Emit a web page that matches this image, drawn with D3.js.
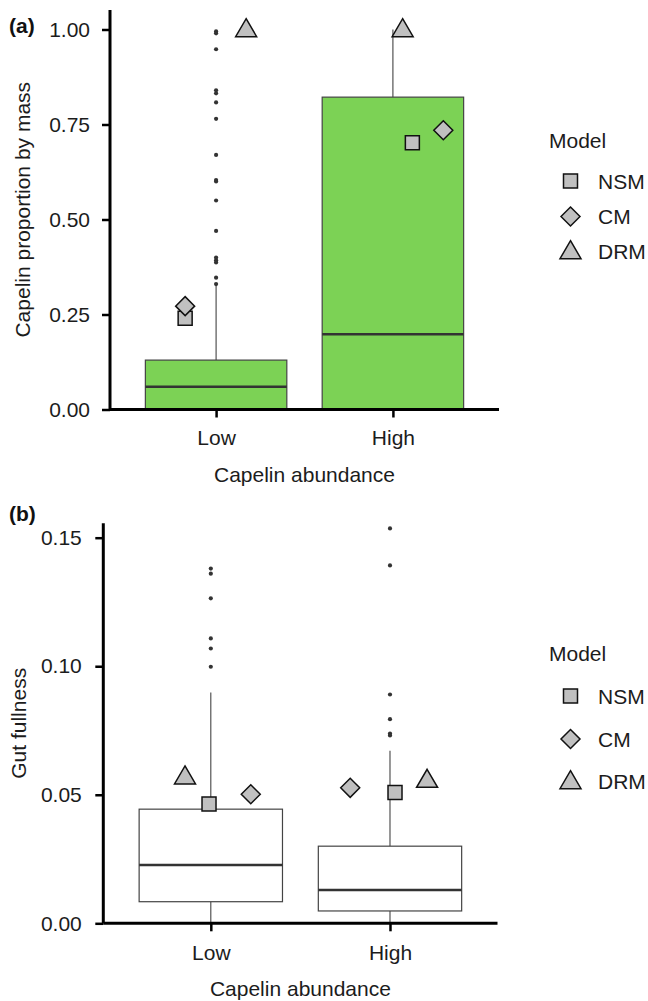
<!DOCTYPE html>
<html><head><meta charset="utf-8">
<script src="https://cdn.jsdelivr.net/npm/d3@7"></script>
<style>
html,body{margin:0;padding:0;background:#fff;}
svg{display:block;font-family:"Liberation Sans",Arial,sans-serif;}
</style></head>
<body><svg id="chart" width="648" height="1001"></svg>
<script>
// ---------- DATA ----------
const categories = ["Low", "High"];
const models = ["NSM", "CM", "DRM"];

// Panel (a): Capelin proportion by mass — box stats [lowWhisker, q1, median, q3, highWhisker]
const propStatsLow  = [0, 0, 0.060, 0.130, 0.326];
const propStatsHigh = [0, 0, 0.198, 0.822, 1.000];
const propOutliersLow  = [0.995, 0.990, 0.948, 0.840, 0.832, 0.808, 0.765, 0.670, 0.604, 0.600, 0.550, 0.470, 0.400, 0.393, 0.387, 0.347, 0.330];
const propOutliersHigh = [];
// model predictions (NSM, CM, DRM)
const propModelLow  = [0.240, 0.272, 1.000];
const propModelHigh = [0.702, 0.735, 1.000];
// horizontal jitter of model points (fraction of category step)
const propJitterLow  = [-0.175, -0.175, 0.17];
const propJitterHigh = [0.11, 0.285, 0.055];
const propTicks = [0, 0.25, 0.50, 0.75, 1.00];

// Panel (b): Gut fullness
const gutStatsLow  = [0, 0.0084, 0.0227, 0.0444, 0.0898];
const gutStatsHigh = [0, 0.0048, 0.0130, 0.0300, 0.0671];
const gutOutliersLow  = [0.1380, 0.1360, 0.1264, 0.1108, 0.1069, 0.0998];
const gutOutliersHigh = [0.1536, 0.1392, 0.0890, 0.0794, 0.0738, 0.0731];
const gutModelLow  = [0.0464, 0.0502, 0.0570];
const gutModelHigh = [0.0509, 0.0527, 0.0557];
const gutJitterLow  = [-0.01, 0.223, -0.144];
const gutJitterHigh = [0.028, -0.222, 0.207];
const gutTicks = [0, 0.05, 0.10, 0.15];

// ---------- DRAW ----------
const svg = d3.select("#chart");
const FONT = 21;
const TXT = "#1c1c1c";
const markerFill = "#c0c0c0";

function markerPath(model, cx, cy) {
  if (model === "NSM") {
    const s = 7;
    return `M${cx-s},${cy-s}H${cx+s}V${cy+s}H${cx-s}Z`;
  } else if (model === "CM") {
    const s = 9.5;
    return `M${cx},${cy-s}L${cx+s},${cy}L${cx},${cy+s}L${cx-s},${cy}Z`;
  } else {
    const w = 10.5, h = 18;
    return `M${cx},${cy-h*0.6}L${cx+w},${cy+h*0.4}L${cx-w},${cy+h*0.4}Z`;
  }
}

function drawPanel(cfg) {
  const g = svg.append("g");
  const x = d3.scalePoint().domain(categories).range([cfg.left, cfg.right]).padding(0.6);
  const y = d3.scaleLinear().domain(cfg.domain).range([cfg.bottom, cfg.top]);
  const step = x.step();
  const bw = step * 0.8;

  const stats = {Low: cfg.statsLow, High: cfg.statsHigh};
  const outl = {Low: cfg.outLow, High: cfg.outHigh};
  const mods = {Low: cfg.modLow, High: cfg.modHigh};
  const jit = {Low: cfg.jitLow, High: cfg.jitHigh};

  categories.forEach(c => {
    const s = stats[c];
    const cx = x(c);
    g.append("line").attr("x1", cx).attr("x2", cx).attr("y1", y(s[3])).attr("y2", y(s[4]))
      .attr("stroke", "#444").attr("stroke-width", 1.1);
    if (s[1] > s[0]) {
      g.append("line").attr("x1", cx).attr("x2", cx).attr("y1", y(s[0])).attr("y2", y(s[1]))
        .attr("stroke", "#444").attr("stroke-width", 1.1);
    }
    g.append("rect").attr("x", cx - bw / 2).attr("width", bw)
      .attr("y", y(s[3])).attr("height", y(s[1]) - y(s[3]))
      .attr("fill", cfg.fill).attr("stroke", "#444").attr("stroke-width", 1.2);
    g.append("line").attr("x1", cx - bw / 2).attr("x2", cx + bw / 2)
      .attr("y1", y(s[2])).attr("y2", y(s[2]))
      .attr("stroke", "#333").attr("stroke-width", 2.5);
    g.selectAll(null).data(outl[c]).enter().append("circle")
      .attr("cx", cx).attr("cy", d => y(d)).attr("r", 2.1).attr("fill", "#333");
  });

  categories.forEach(c => {
    models.forEach((m, i) => {
      const cx = x(c) + jit[c][i] * step;
      const cy = y(mods[c][i]);
      g.append("path").attr("d", markerPath(m, cx, cy))
        .attr("fill", markerFill).attr("stroke", "#111").attr("stroke-width", 1.5);
    });
  });

  const yAxis = d3.axisLeft(y).tickValues(cfg.ticks).tickFormat(d3.format(".2f")).tickSize(8).tickPadding(cfg.yPad);
  const ya = g.append("g").attr("transform", `translate(${cfg.left},0)`).call(yAxis);
  const xAxis = d3.axisBottom(x).tickSize(8).tickPadding(cfg.xPad);
  const xa = g.append("g").attr("transform", `translate(0,${cfg.bottom})`).call(xAxis);
  [ya, xa].forEach(a => {
    a.select(".domain").attr("stroke", "#000").attr("stroke-width", 3);
    a.selectAll(".tick line").attr("stroke", "#000").attr("stroke-width", 2.5);
    a.selectAll(".tick text").attr("fill", TXT).attr("font-size", FONT)
      .attr("font-family", '"Liberation Sans",Arial,sans-serif');
  });
  ya.select(".domain").attr("d", `M0,${cfg.bottom}V${cfg.top}`);
  xa.select(".domain").attr("d", `M${cfg.left},0H${cfg.right}`);

  g.append("text").attr("transform", `translate(${cfg.ytitleX},${(cfg.top + cfg.bottom) / 2}) rotate(-90)`)
    .attr("text-anchor", "middle").attr("font-size", FONT).attr("fill", TXT).text(cfg.ytitle);
  g.append("text").attr("x", (cfg.left + cfg.right) / 2).attr("y", cfg.xtitleY)
    .attr("text-anchor", "middle").attr("font-size", FONT).attr("fill", TXT).text("Capelin abundance");
  g.append("text").attr("x", 9).attr("y", cfg.labelY).attr("font-size", FONT).attr("font-weight", "bold")
    .attr("fill", "#111").text(cfg.label);

  const lg = g.append("g");
  lg.append("text").attr("x", 549).attr("y", cfg.legTitleY + 7.5).attr("font-size", FONT).attr("fill", TXT).text("Model");
  models.forEach((m, i) => {
    const ly = cfg.legY[i];
    lg.append("path").attr("d", markerPath(m, 570.5, ly))
      .attr("fill", markerFill).attr("stroke", "#111").attr("stroke-width", 1.5);
    lg.append("text").attr("x", 598).attr("y", ly + 7.5).attr("font-size", FONT).attr("fill", TXT).text(m);
  });
}

drawPanel({
  left: 110, right: 499, top: 10, bottom: 409.5, domain: [0, 1.0513],
  statsLow: propStatsLow, statsHigh: propStatsHigh,
  outLow: propOutliersLow, outHigh: propOutliersHigh,
  modLow: propModelLow, modHigh: propModelHigh,
  jitLow: propJitterLow, jitHigh: propJitterHigh,
  ticks: propTicks, fill: "#7cd255", yPad: 12, xPad: 12.5,
  ytitle: "Capelin proportion by mass", ytitleX: 30, xtitleY: 481.5,
  label: "(a)", labelY: 33,
  legTitleY: 140, legY: [181, 216.5, 251.5]
});

drawPanel({
  left: 103.3, right: 497.5, top: 523.3, bottom: 923.3, domain: [0, 0.1556],
  statsLow: gutStatsLow, statsHigh: gutStatsHigh,
  outLow: gutOutliersLow, outHigh: gutOutliersHigh,
  modLow: gutModelLow, modHigh: gutModelHigh,
  jitLow: gutJitterLow, jitHigh: gutJitterHigh,
  ticks: gutTicks, fill: "#ffffff", yPad: 13.5, xPad: 13.5,
  ytitle: "Gut fullness", ytitleX: 25.5, xtitleY: 995.5,
  label: "(b)", labelY: 521,
  legTitleY: 653, legY: [696, 739, 781.5]
});
</script></body></html>
